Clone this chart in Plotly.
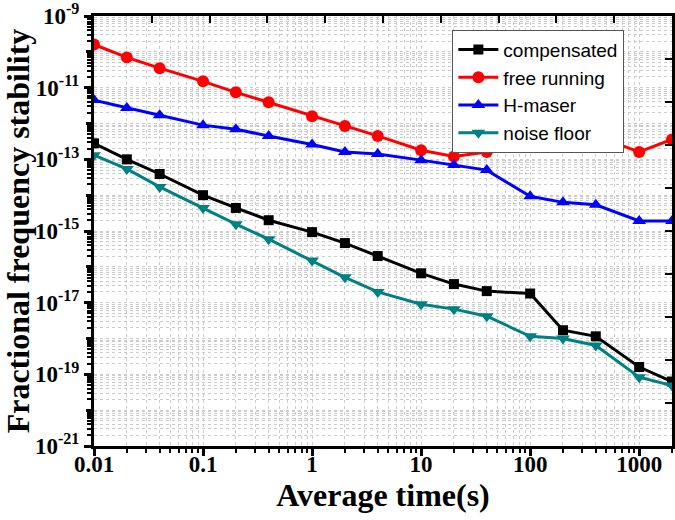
import plotly.graph_objects as go

tau = [0.01, 0.02, 0.04, 0.1, 0.2, 0.4, 1, 2, 4, 10, 20, 40, 100, 200, 400, 1000, 2000]

compensated = [2.8e-13, 1.0e-13, 3.9e-14, 1.0e-14, 4.4e-15, 2.0e-15, 9.3e-16, 4.6e-16,
               2.0e-16, 6.6e-17, 3.3e-17, 2.1e-17, 1.8e-17, 1.7e-18, 1.15e-18, 1.6e-19, 6.3e-20]
free_running = [1.6e-10, 7.0e-11, 3.5e-11, 1.5e-11, 7.4e-12, 3.9e-12, 1.6e-12, 8.5e-13,
                4.5e-13, 1.8e-13, 1.2e-13, 1.6e-13, 2.6e-13, 3.2e-13, 4.5e-13, 1.6e-13, 3.6e-13]
h_maser = [4.5e-12, 2.7e-12, 1.7e-12, 9.0e-13, 6.9e-13, 4.5e-13, 2.6e-13, 1.6e-13,
           1.4e-13, 9.5e-14, 7.0e-14, 5.0e-14, 9.3e-15, 6.3e-15, 5.4e-15, 1.9e-15, 1.9e-15]
noise_floor = [1.3e-13, 5.4e-14, 1.7e-14, 4.4e-15, 1.55e-15, 5.9e-16, 1.5e-16, 5.1e-17,
               2.0e-17, 9.0e-18, 6.6e-18, 4.2e-18, 1.15e-18, 1.0e-18, 6.4e-19, 8.3e-20, 4.9e-20]

series_names = ["compensated", "free running", "H-maser", "noise floor"]
series_colors = ["#000000", "#FF0000", "#0000FF", "#008080"]
series_symbols = ["square", "circle", "triangle-up", "triangle-down"]
series_sizes = [10, 12, 12, 12]

x_tickvals = [0.01, 0.1, 1, 10, 100, 1000]
x_ticktext = ["0.01", "0.1", "1", "10", "100", "1000"]
y_label_exponents = [-21, -19, -17, -15, -13, -11, -9]
y_plain_exponents = [-20, -18, -16, -14, -12, -10]

x_minor = [m * 10.0 ** e for e in range(-2, 4) for m in range(2, 10) if m * 10.0 ** e <= 2000]
y_tickvals = [10.0 ** e for e in y_label_exponents]
y_ticktext = [f"10<sup>{e}</sup>" for e in y_label_exponents]
y_plainvals = [10.0 ** e for e in y_plain_exponents]
y_minor = [m * 10.0 ** e for e in range(-21, -9) for m in range(2, 10)]

fig = go.Figure()
for name, vals, col, sym, sz in zip(series_names,
                                    [compensated, free_running, h_maser, noise_floor],
                                    series_colors, series_symbols, series_sizes):
    fig.add_trace(go.Scatter(x=tau, y=vals, name=name, mode="lines+markers",
                             line=dict(color=col, width=3),
                             marker=dict(symbol=sym, size=sz, color=col)))

# empty traces to anchor the frame / extra-tick axes
fig.add_trace(go.Scatter(x=[], y=[], xaxis="x2", yaxis="y2", showlegend=False))
fig.add_trace(go.Scatter(x=[], y=[], xaxis="x", yaxis="y3", showlegend=False))

grid_col = "#cccccc"
serif = dict(family="Liberation Serif", size=23, color="black", weight="bold")
title_font = dict(family="Liberation Serif", size=32, color="black", weight="bold")

fig.update_layout(
    width=675, height=520,
    margin=dict(l=94, r=3, t=16, b=74, autoexpand=False),
    plot_bgcolor="white", paper_bgcolor="white",
    showlegend=True,
    legend=dict(x=0.62, y=0.968, xanchor="left", yanchor="top",
                bgcolor="white", bordercolor="#555555", borderwidth=1,
                font=dict(family="Liberation Sans", size=19, color="black"),
                tracegroupgap=0, itemwidth=40),
    xaxis=dict(type="log", range=[-2, 3.301], tickvals=x_tickvals, ticktext=x_ticktext,
               tickfont=serif, ticks="outside", ticklen=7, tickwidth=2.5, tickcolor="black",
               ticklabelstandoff=-12,
               showline=True, linecolor="black", linewidth=3,
               showgrid=True, gridcolor=grid_col, griddash="dot", gridwidth=1,
               minor=dict(tickvals=x_minor, ticks="outside", ticklen=4, tickwidth=2,
                          tickcolor="black", showgrid=True, gridcolor=grid_col,
                          griddash="dot", gridwidth=1),
               title=dict(text="Average time(s)", font=title_font, standoff=2),
               zeroline=False, automargin=False),
    yaxis=dict(type="log", range=[-21, -9], tickvals=y_tickvals, ticktext=y_ticktext,
               tickfont=serif, ticks="outside", ticklen=7, tickwidth=2.5, tickcolor="black",
               showline=True, linecolor="black", linewidth=3,
               showgrid=True, gridcolor=grid_col, griddash="dot", gridwidth=1,
               minor=dict(tickvals=y_minor, ticks="outside", ticklen=4, tickwidth=2,
                          tickcolor="black", showgrid=True, gridcolor=grid_col,
                          griddash="dot", gridwidth=1),
               title=dict(text="Fractional frequency stability", font=title_font, standoff=2),
               zeroline=False, automargin=False),
    yaxis3=dict(type="log", overlaying="y", side="left", range=[-21, -9],
                tickvals=y_plainvals, ticks="outside", ticklen=7, tickwidth=2.5,
                tickcolor="black", showticklabels=False, showline=False,
                showgrid=True, gridcolor=grid_col, griddash="dot", gridwidth=1,
                zeroline=False),
    xaxis2=dict(overlaying="x", side="top", range=[0, 10], dtick=1, ticks="inside",
                ticklen=7, tickwidth=2, tickcolor="black", showticklabels=False,
                showline=True, linecolor="black", linewidth=3, showgrid=False, zeroline=False),
    yaxis2=dict(overlaying="y", side="right", range=[0, 10], dtick=1, ticks="inside",
                ticklen=7, tickwidth=2, tickcolor="black", showticklabels=False,
                showline=True, linecolor="black", linewidth=3, showgrid=False, zeroline=False),
)

fig.write_html("out.html", config={"displayModeBar": False},
               post_script="document.body.style.margin='0px';")
